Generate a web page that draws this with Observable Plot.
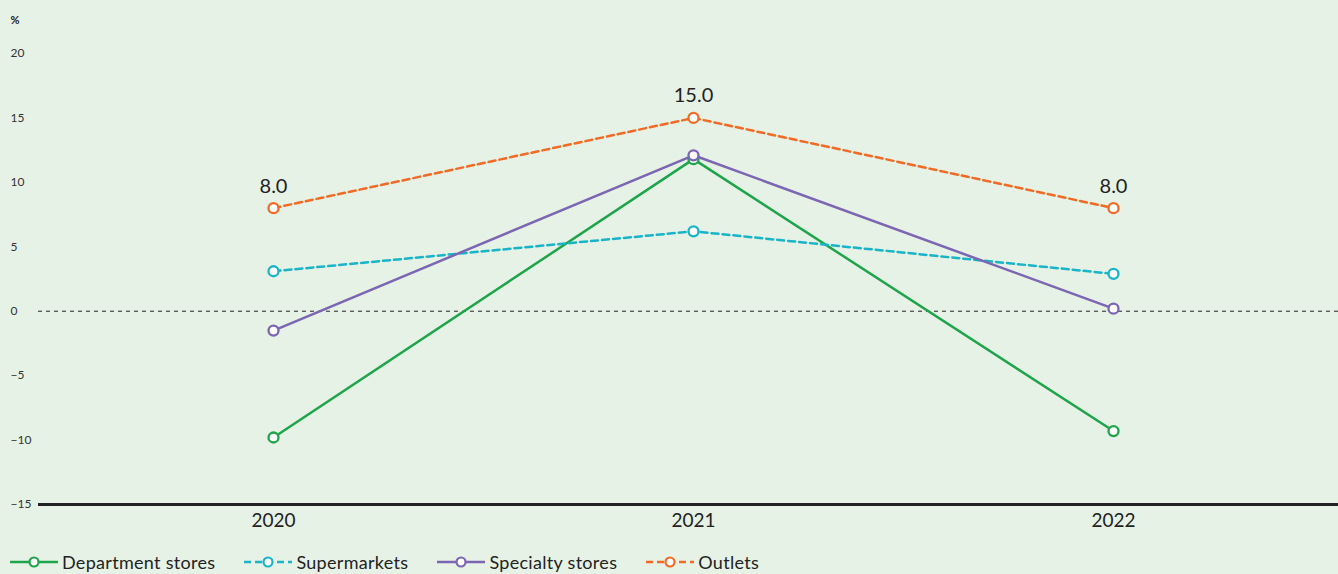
<!DOCTYPE html>
<html>
<head>
<meta charset="utf-8">
<script src="https://cdn.jsdelivr.net/npm/d3@7"></script>
<script src="https://cdn.jsdelivr.net/npm/@observablehq/plot@0.6"></script>
<style>
  html, body { margin: 0; padding: 0; background: #e7f2e6; overflow: hidden; }
  body { width: 1338px; height: 574px; font-family: Lato, "Noto Sans", sans-serif; color: #222; }
  #legend { display: flex; gap: 29px; padding-left: 10px; margin-top: 6px; font-size: 18px; letter-spacing: 0.3px; line-height: 22px; white-space: nowrap; }
  #legend .item { display: flex; align-items: center; gap: 4px; }
</style>
</head>
<body>
<div id="chart"></div>
<div id="legend"></div>
<script>
// Annual growth by store type, %
const years = ["2020", "2021", "2022"];
const seriesNames = ["Department stores", "Supermarkets", "Specialty stores", "Outlets"];
const departmentStores = [-9.8, 11.8, -9.3];
const supermarkets = [3.1, 6.2, 2.9];
const specialtyStores = [-1.5, 12.1, 0.2];
const outlets = [8.0, 15.0, 8.0];
const yTicks = [-15, -10, -5, 0, 5, 10, 15, 20];

const seriesValues = [departmentStores, supermarkets, specialtyStores, outlets];
const colors = ["#1ea54b", "#18b4c8", "#7c65b3", "#f26a24"];
const dashes = [null, "7,4", null, "7,4"];

const rows = seriesNames.flatMap((name, s) =>
  years.map((year, i) => ({series: name, year, value: seriesValues[s][i]}))
);

const lineMarks = seriesNames.map((name, s) =>
  Plot.line(rows.filter(d => d.series === name), {
    x: "year", y: "value", stroke: colors[s], strokeWidth: 2.5,
    strokeDasharray: dashes[s] ?? undefined
  })
);
const dotMarks = seriesNames.map((name, s) =>
  Plot.dot(rows.filter(d => d.series === name), {
    x: "year", y: "value", r: 5, stroke: colors[s], strokeWidth: 2.3, fill: "white"
  })
);

const chart = Plot.plot({
  width: 1338,
  height: 545,
  marginLeft: 38,
  marginRight: 0,
  marginTop: 53,
  marginBottom: 41,
  style: {fontFamily: "Lato, 'Noto Sans', sans-serif", background: "transparent", color: "#222"},
  x: {type: "point", domain: years, padding: 0, insetLeft: 235, insetRight: 225, label: null},
  y: {domain: [-15, 20], label: null},
  marks: [
    Plot.axisY({ticks: yTicks, tickSize: 0, tickPadding: 28, textAnchor: "start", fontSize: 12, fill: "#333", label: null}),
    Plot.axisX({tickSize: 0, tickPadding: 9, fontSize: 19, fill: "#222", label: null}),
    Plot.text(["%"], {frameAnchor: "top-left", dx: -28, dy: -33, textAnchor: "start", lineAnchor: "middle", fontSize: 11, fontWeight: "bold", fill: "#222"}),
    Plot.ruleY([0], {stroke: "#222", strokeWidth: 1, strokeDasharray: "4,4"}),
    Plot.ruleY([-15], {stroke: "#222", strokeWidth: 3}),
    ...lineMarks,
    ...dotMarks,
    Plot.text(rows.filter(d => d.series === "Outlets"), {
      x: "year", y: "value", text: d => d.value.toFixed(1), dy: -22, fontSize: 20, fill: "#222"
    })
  ]
});
document.getElementById("chart").appendChild(chart);

// Legend: line–circle–line swatch followed by the series name
const legend = d3.select("#legend");
seriesNames.forEach((name, s) => {
  const item = legend.append("div").attr("class", "item");
  const sw = item.append("svg").attr("width", 48).attr("height", 14);
  sw.append("line").attr("x1", 0).attr("x2", 48).attr("y1", 7).attr("y2", 7)
    .attr("stroke", colors[s]).attr("stroke-width", 2.5)
    .attr("stroke-dasharray", dashes[s]);
  sw.append("circle").attr("cx", 24).attr("cy", 7).attr("r", 4.5)
    .attr("fill", "white").attr("stroke", colors[s]).attr("stroke-width", 2.2);
  item.append("span").text(name);
});
</script>
</body>
</html>
